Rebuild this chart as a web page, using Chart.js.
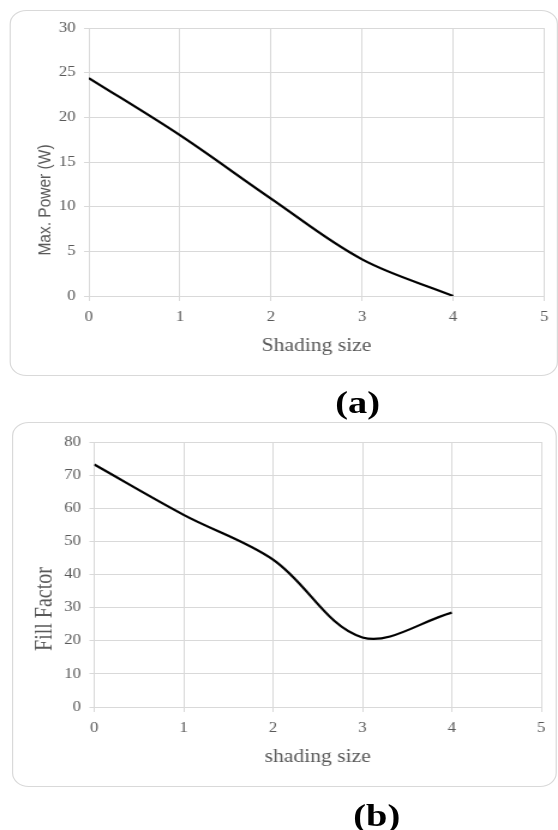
<!DOCTYPE html>
<html>
<head>
<meta charset="utf-8">
<script src="https://cdn.jsdelivr.net/npm/chart.js@4"></script>
<style>
  html, body { margin: 0; padding: 0; background: #fff; width: 558px; height: 830px; overflow: hidden; }
  /* the reference is stretched sideways, so the whole page is drawn narrow and scaled */
  #page { position: absolute; left: 0; top: 0; width: 465px; height: 830px; transform: scaleX(1.2); transform-origin: 0 0; }
  .box { position: absolute; box-sizing: border-box; border: 1.3px solid #d9d9d9; border-radius: 14px; }
  canvas { position: absolute; }
  .lbl { position: absolute; font: bold 32px "Liberation Serif", "Times New Roman", serif; color: #000; line-height: 1; transform: translate(-50%, -50%); white-space: nowrap; }
</style>
</head>
<body>
<div id="page">
  <div class="box" style="left:7.5px; top:10px; width:457px; height:366px;"></div>
  <canvas id="graficoA" width="457" height="366" style="left:7.5px; top:10px;"></canvas>
  <div class="lbl" style="left:298px; top:402px;">(a)</div>

  <div class="box" style="left:10px; top:422px; width:454px; height:365px;"></div>
  <canvas id="graficoB" width="454" height="365" style="left:10px; top:422px;"></canvas>
  <div class="lbl" style="left:314px; top:815px;">(b)</div>
</div>

<script>
// dados dos graficos
const tamanhoSombra = [0, 1, 2, 3, 4];
const potenciaMax = [24.4, 18.0, 10.9, 4.1, 0];
const fatorForma = [73.2, 58.0, 44.5, 21.0, 28.5];

const ticksX = [0, 1, 2, 3, 4, 5];

// titulo do eixo y desenhado no meio da caixa
const tituloY = {
    id: 'tituloY',
    afterDraw(chart, args, opts) {
        const ctx = chart.ctx;
        ctx.save();
        ctx.translate(opts.x, opts.y);
        ctx.rotate(-Math.PI / 2);
        ctx.font = opts.font;
        ctx.fillStyle = '#595959';
        ctx.textAlign = 'center';
        ctx.textBaseline = 'middle';
        ctx.fillText(opts.text, 0, 0);
        ctx.restore();
    }
};

function montaGrafico(canvas, valores, cfg) {
    const pontos = tamanhoSombra.map((x, i) => ({ x: x, y: valores[i] }));
    return new Chart(canvas, {
        type: 'line',
        data: {
            datasets: [{
                data: pontos,
                borderColor: '#000',
                borderWidth: 2.2,
                pointRadius: 0,
                tension: 0.35,
                fill: false
            }]
        },
        plugins: [tituloY],
        options: {
            responsive: false,
            animation: false,
            devicePixelRatio: 1,
            layout: { padding: { left: 0, top: cfg.top, right: cfg.right, bottom: 0 } },
            plugins: {
                legend: { display: false },
                tooltip: { enabled: false },
                tituloY: cfg.tituloY
            },
            scales: {
                x: {
                    type: 'linear',
                    min: 0,
                    max: 5,
                    afterBuildTicks: (s) => { s.ticks = ticksX.map(v => ({ value: v })); },
                    afterFit: (s) => { s.height = cfg.alturaX; },
                    grid: { color: '#d9d9d9', tickLength: 5, lineWidth: 1 },
                    border: { color: '#d9d9d9', width: 1 },
                    ticks: {
                        color: '#595959',
                        padding: 8,
                        font: { family: '"Liberation Serif", "Times New Roman", serif', size: 14 }
                    },
                    title: {
                        display: true,
                        text: cfg.tituloX,
                        color: '#595959',
                        padding: { top: 0, bottom: 19 },
                        font: { family: '"Liberation Serif", "Times New Roman", serif', size: 18 }
                    }
                },
                y: {
                    min: 0,
                    max: cfg.maxY,
                    ticks: {
                        stepSize: cfg.passoY,
                        color: '#595959',
                        padding: 7,
                        font: { family: '"Liberation Serif", "Times New Roman", serif', size: 14 }
                    },
                    afterFit: (s) => { s.width = cfg.larguraY; },
                    grid: { color: '#d9d9d9', tickLength: 4, lineWidth: 1 },
                    border: { color: '#d9d9d9', width: 1 }
                }
            }
        }
    });
}

const graficoA = montaGrafico(document.getElementById('graficoA'), potenciaMax, {
    top: 18, right: 9.5, alturaX: 80, larguraY: 66,
    maxY: 30, passoY: 5,
    tituloX: 'Shading size',
    tituloY: { text: 'Max. Power (W)', x: 30, y: 190, font: '15.5px "Liberation Sans", Arial, sans-serif' }
});

const graficoB = montaGrafico(document.getElementById('graficoB'), fatorForma, {
    top: 20, right: 13, alturaX: 80, larguraY: 68.5,
    maxY: 80, passoY: 10,
    tituloX: 'shading size',
    tituloY: { text: 'Fill Factor', x: 27.5, y: 187, font: '20px "Liberation Serif", "Times New Roman", serif' }
});
</script>
</body>
</html>
